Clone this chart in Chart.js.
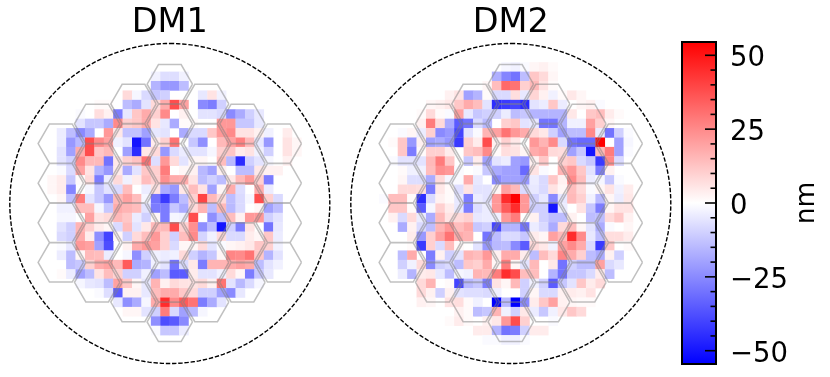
<!DOCTYPE html>
<html><head><meta charset="utf-8">
<script src="https://cdn.jsdelivr.net/npm/chart.js@4"></script>
<style>
html,body{margin:0;padding:0;background:#fff;overflow:hidden}
canvas{position:absolute;top:0}
#a,#b{filter:blur(0.45px)}
</style></head><body>
<canvas id="a" width="340" height="377" style="left:0"></canvas>
<canvas id="b" width="340" height="377" style="left:341px"></canvas>
<canvas id="c" width="160" height="377" style="left:670px"></canvas>
<script>
const titles = ['DM1', 'DM2'];
const colorbarTicks = [-50, -25, 0, 25, 50];
const colorbarUnit = 'nm';
const colorLimit = 54.5;
const gridSize = 34;
const hexColumnCounts = [4, 5, 6, 7, 6, 5, 4];

// first row index, then for each row: [first column, values in nm...]
const dm1FirstRow = -1;
const dm1 = [
[-2,-3,-7,-7,-3],
[-2,-16,-22,-22,-14],
[-5,8,-2,-8,-12,-10,0,0,0,-5,6,-3],
[-8,1,1,0,-14,-18,-6,8,18,38,20,0,-25,-28,-10],
[-10,-1,0,7,3,-28,-5,12,18,10,25,0,3,0,-6,-6,-8,-25,-18,-10,-5],
[-10,-6,-12,-12,-18,25,10,12,18,6,-5,-18,1,1,0,0,22,22,-12,-12,-5],
[-12,-4,-14,-25,-18,0,22,5,-13,-13,-20,-5,-6,0,-18,-8,-8,12,22,25,6,6,3,-3,0,4],
[-12,-4,-22,-15,38,25,20,-3,-6,-50,-30,4,10,30,0,-12,-24,0,15,20,27,15,-5,-22,0,6,2],
[-12,-6,-20,18,38,12,15,0,-20,-45,5,8,-22,-8,-4,-6,-6,-2,10,12,4,6,-3,-10,0,6,2],
[-12,-6,-10,25,15,15,-30,5,10,13,30,-7,22,8,-6,2,2,0,14,-15,-45,-10,-6,-2,0,3,0],
[-12,-1,-8,20,6,-16,-22,4,-18,-6,12,10,28,0,2,3,-15,-20,3,0,-14,-14,5,3,3,0,0],
[-13,2,4,-12,1,8,-28,-4,8,-3,4,14,10,24,18,18,6,-14,-10,-14,5,15,22,10,-28,0,0],
[-13,2,4,-26,0,-2,-12,-6,-8,14,0,-4,6,-18,-22,5,14,6,-20,2,18,-7,0,18,-4,0,0],
[-12,2,-14,28,-6,-12,-22,15,20,14,-2,-30,-42,-28,-14,10,40,15,8,-14,-8,-2,38,10,-8,0],
[-12,-3,-3,14,14,-2,-12,18,16,14,-6,-28,-28,-12,-18,8,16,-14,15,-15,-8,0,2,-20,-14],
[-13,0,-2,-2,0,20,6,8,15,12,-4,-10,2,-28,-2,-3,38,0,-24,-14,14,3,22,22,-10,-6],
[-12,-6,-10,16,10,4,2,-8,14,-6,5,15,15,38,10,24,-24,-14,-50,-10,-28,6,0,-30,-5],
[-12,-8,-10,18,4,-24,-40,2,-10,8,14,22,10,-10,14,25,-9,-3,8,-8,-8,4,2,12,-4],
[-12,-1,-5,22,20,-20,-38,0,3,18,22,20,10,-8,2,2,8,-6,-1,2,3,5,12,10,-3],
[-12,-4,-14,2,15,14,-4,0,-2,-24,-10,-3,-4,-3,8,-10,-16,-12,2,26,25,30,12,-16,-6],
[-13,0,0,-14,-12,10,18,20,15,35,-18,-16,-3,-6,-30,-8,5,-28,16,16,18,20,18,-14,-6,-3],
[-12,1,-4,-20,-14,6,14,10,-10,-10,-3,-20,-14,-35,-35,4,-6,-6,-3,8,2,-28,-12,-5],
[-10,-2,-5,-6,-14,20,12,2,-5,16,3,8,6,6,8,3,30,-6,-15,-8,-2],
[-8,-1,-7,-35,3,3,-5,14,18,18,12,8,-10,-10,-20,-25,-5],
[-6,-5,-24,-18,-2,18,45,25,35,30,-28,-18,-6],
[-5,2,2,-6,-10,28,-8,-20,-15,-2],
[-2,-24,-38,-35,-25],
[-2,-1,-12,-12,-4]
];

const dm2FirstRow = -2;
const dm2 = [
[-1,-2,-3,-1,2,3,1],
[-2,-17,-26,-30,-14,12,8,2],
[-3,2,14,32,30,10,15,6,1],
[-7,3,6,-20,-16,1,-8,-8,7,-5,9,3,-3,1,5,2],
[-9,2,3,5,12,18,14,-6,-45,-42,-40,-45,-6,-4,12,-4,0,2,3,-1],
[-10,1,8,1,-1,20,-5,-12,-10,-10,-4,-14,-12,-16,-16,-16,-16,5,0,12,14,4,1],
[-10,3,28,8,-18,-35,-30,-8,-15,0,10,12,-6,-5,-30,-30,-16,-3,-3,20,10,2],
[-12,-1,2,-4,10,-25,-22,-40,-6,-1,16,20,30,22,18,8,5,-10,-20,-14,-14,25,-4,-30,-10,-1],
[-13,1,12,-22,3,-20,-18,-22,-42,10,4,38,3,10,5,0,22,16,25,-8,-30,-32,-32,55,0,-20,-2],
[-13,0,12,-28,1,10,10,4,0,12,14,25,1,7,6,2,18,20,8,7,-20,-12,-50,15,28,-20,-1],
[-13,-1,-6,-6,-6,15,28,12,0,-12,4,-20,-6,-4,-20,-22,3,12,0,10,12,-8,-12,-42,25,-8,0],
[-12,1,-3,-3,14,24,22,-1,0,-1,-12,-18,-20,-20,-32,6,-1,0,16,22,12,-6,-28,3,0],
[-13,0,2,-7,-7,-18,8,-2,-1,18,-5,0,-25,-20,-20,-22,-4,-8,12,3,25,14,-4,-2,-12,-1],
[-13,0,8,8,7,-28,5,1,-7,6,-6,-6,2,20,15,-8,-5,-8,6,2,14,8,-1,2,6,-3,4],
[-14,-1,14,14,1,-45,-8,3,1,-5,-28,-4,-6,22,45,55,22,-10,-5,-25,-5,15,10,-3,-15,2,-4,5],
[-13,12,12,1,-35,-2,10,4,-5,-28,-7,-4,22,35,45,22,-10,-10,-50,-4,0,6,-12,-28,2,6,6],
[-13,3,-8,8,-4,-18,15,6,8,10,-5,-4,-3,22,28,0,3,-10,-14,-14,3,0,-14,-14,8,12,3],
[-13,0,-18,3,-8,-14,16,22,14,18,-12,-10,-40,-16,-16,-30,-4,-8,-18,8,14,2,-6,-18,-1,0,2],
[-12,0,4,-22,10,20,30,18,16,0,-30,-14,-8,-8,-12,4,2,20,15,45,25,-5,-14,7,7,4],
[-12,0,1,-42,10,-8,14,1,0,-6,-22,-15,-14,-25,-35,8,5,-3,20,25,18,-8,-42,12,0,1],
[-12,-14,18,0,-28,3,-10,-6,16,14,22,3,18,18,4,-14,14,8,26,18,10,-14,-18,3,-10,0],
[-12,-10,-3,8,-25,-10,-8,-14,12,10,18,2,28,2,-6,15,0,5,-30,-10,-14,-14,20,-8,-5],
[-12,-4,-16,4,5,-5,-14,-2,-3,16,15,28,45,38,14,14,0,-16,-30,-12,-12,-8,4,-14],
[-10,8,16,0,1,-40,-15,-12,-28,6,2,15,-10,-3,-10,-35,-12,-6,12,4,8],
[-10,8,3,-10,3,-6,-7,-7,-8,-3,0,0,-10,2,-8,-8,3,4,3,6],
[-10,3,2,0,6,7,1,-3,0,-55,-15,-55,-25,4,12,20,3,2,1,1],
[-6,3,1,-14,-12,16,-3,-10,5,-4,-12,-3,5,12,8],
[-7,1,4,1,0,3,5,22,38,10,0,0,-1],
[-4,4,4,-16,-30,-28,-10,4,4],
[-3,-1,-1,-3,-3,-1]
];

const FONT = '"DejaVu Sans"';

function bwr(v) {
  const t = Math.min(1, Math.abs(v) / colorLimit);
  const c = Math.round(255 * (1 - t));
  return v >= 0 ? `rgb(255,${c},${c})` : `rgb(${c},${c},255)`;
}

function cellsFrom(rows, firstRow) {
  const pts = [];
  rows.forEach((row, i) => {
    const r = firstRow + i - 13;
    row.slice(1).forEach((v, j) => {
      if (v !== 0) pts.push({x: row[0] + j + 0.5, y: r + 0.5, v});
    });
  });
  return pts;
}

function hexOutline() {
  const R = 2.41, dx = 3.86, dy = 4.21, pts = [];
  hexColumnCounts.forEach((n, k) => {
    const cx = (k - 3) * dx;
    for (let i = 0; i < n; i++) {
      const cy = (i - (n - 1) / 2) * dy - 0.05;
      for (let a = 0; a <= 6; a++) {
        const t = a * Math.PI / 3;
        pts.push({x: cx + R * Math.cos(t), y: cy + R * Math.sin(t)});
      }
      pts.push({x: NaN, y: NaN});
    }
  });
  return pts;
}

function circleOutline() {
  const pts = [];
  for (let a = 0; a <= 240; a++) {
    const t = a / 240 * 2 * Math.PI - Math.PI / 2;
    pts.push({x: 17 * Math.cos(t), y: 17 * Math.sin(t)});
  }
  return pts;
}

function panel(id, title, rows, firstRow) {
  return new Chart(document.getElementById(id), {
    type: 'scatter',
    data: {datasets: [
      {
        data: cellsFrom(rows, firstRow), order: 3, clip: false,
        pointStyle: 'rect', borderWidth: 0, pointBorderWidth: 0,
        pointRadius: 6.85, pointHoverRadius: 6.85,
        pointBackgroundColor: c => bwr(c.raw.v)
      },
      {
        data: hexOutline(), order: 2, clip: false, showLine: true, spanGaps: false,
        pointRadius: 0, borderColor: 'rgba(130,130,130,0.5)', borderWidth: 1.5
      },
      {
        data: circleOutline(), order: 1, clip: false, showLine: true,
        pointRadius: 0, borderColor: '#000', borderWidth: 1.4, borderDash: [4.4, 1.8]
      }
    ]},
    options: {
      responsive: false, animation: false, devicePixelRatio: 1,
      layout: {padding: {left: 9.8, right: 10.2, top: 0, bottom: 13.5}},
      plugins: {
        legend: {display: false}, tooltip: {enabled: false},
        title: {display: true, text: title, color: '#000',
          font: {family: FONT, size: 33.5, weight: 'normal', lineHeight: 1.2},
          padding: {top: 3.3, bottom: 0}}
      },
      scales: {
        x: {type: 'linear', min: -gridSize / 2, max: gridSize / 2, display: false},
        y: {type: 'linear', min: -gridSize / 2, max: gridSize / 2, reverse: true, display: false}
      }
    }
  });
}

panel('a', titles[0], dm1, dm1FirstRow);
panel('b', titles[1], dm2, dm2FirstRow);

const inwardTicks = {
  id: 'inwardTicks',
  afterDatasetsDraw(chart) {
    const {ctx, chartArea: a, scales: {y}} = chart;
    ctx.save();
    ctx.strokeStyle = '#000';
    ctx.lineWidth = 1.6;
    y.ticks.forEach(t => {
      const py = y.getPixelForValue(t.value);
      const len = colorbarTicks.includes(t.value) ? 11 : 5.5;
      ctx.beginPath();
      ctx.moveTo(a.right, py);
      ctx.lineTo(a.right - len, py);
      ctx.stroke();
    });
    ctx.lineWidth = 2;
    ctx.strokeRect(a.left, a.top, a.right - a.left, a.bottom - a.top);
    ctx.fillStyle = '#000';
    ctx.font = '26.5px ' + FONT;
    ctx.textAlign = 'center';
    ctx.textBaseline = 'middle';
    ctx.translate(137, (a.top + a.bottom) / 2);
    ctx.rotate(-Math.PI / 2);
    ctx.fillText(colorbarUnit, 0, 0);
    ctx.restore();
  }
};

new Chart(document.getElementById('c'), {
  type: 'bar',
  data: {labels: [''], datasets: [{
    data: [[-colorLimit, colorLimit]],
    barPercentage: 1, categoryPercentage: 1, borderWidth: 0,
    backgroundColor: c => {
      const a = c.chart.chartArea;
      if (!a) return '#fff';
      const g = c.chart.ctx.createLinearGradient(0, a.bottom, 0, a.top);
      g.addColorStop(0, bwr(-colorLimit));
      g.addColorStop(0.5, bwr(0));
      g.addColorStop(1, bwr(colorLimit));
      return g;
    }
  }]},
  plugins: [inwardTicks],
  options: {
    responsive: false, animation: false, devicePixelRatio: 1,
    layout: {padding: {left: 12, right: 14, top: 42, bottom: 13}},
    plugins: {legend: {display: false}, tooltip: {enabled: false}, title: {display: false}},
    scales: {
      x: {display: false},
      y: {
        position: 'right', min: -colorLimit, max: colorLimit,
        afterFit: s => { s.width = 100; s.paddingTop = 0; s.paddingBottom = 0; },
        grid: {display: false, drawTicks: false}, border: {display: false},
        ticks: {
          stepSize: 5, includeBounds: false, autoSkip: false, padding: 14, color: '#000',
          labelOffset: 3.8,
          font: {family: FONT, size: 27.5},
          callback: v => colorbarTicks.includes(v) ? String(v).replace('-', '\u2212') : ''
        }
      }
    }
  }
});
</script>
</body></html>
